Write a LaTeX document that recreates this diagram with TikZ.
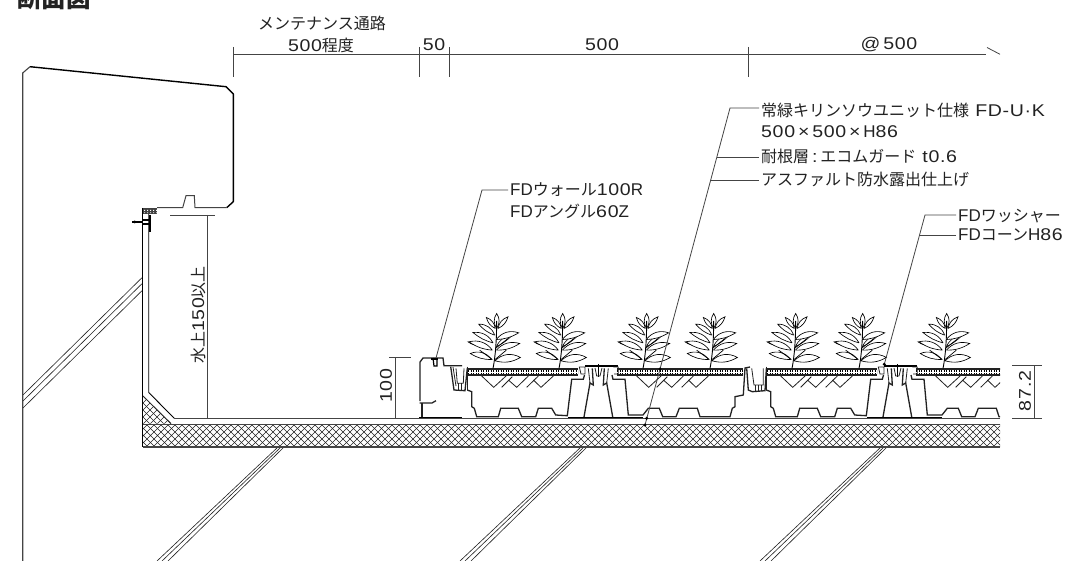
\documentclass[tikz,border=0pt]{standalone}
\usepackage{fontspec}
\setmainfont[FakeStretch=1.15,LetterSpace=4]{Liberation Sans}
\newfontfamily\ltr{Liberation Sans}
\newfontfamily\jpf{Noto Sans CJK JP}
\usetikzlibrary{calc}
\definecolor{ink}{HTML}{222222}
\definecolor{dimc}{HTML}{444444}
\tikzset{
  lbl/.style={inner sep=2pt,text=ink,font=\fontsize{17}{19}\selectfont},
  dimline/.style={draw=dimc,line width=0.8pt},
  leaderline/.style={draw=dimc,line width=0.8pt},
  prof/.style={draw=ink,line width=1.3pt,line join=miter},
  thin/.style={draw=ink,line width=0.8pt},
  leaf/.style={draw=black,line width=0.65pt,fill=white},
  hatchline/.style={draw=ink,line width=0.65pt},
  dotm/.style={circle,fill=black,inner sep=0pt,minimum size=3.4pt}
}
\newcommand{\jt}[1]{{\fontsize{16}{18}\selectfont\jpf #1}}
\newcommand{\lf}[4]{\draw[leaf] (#1) to[bend left=#3] (#2) to[bend left=#4] (#1);}
\newcommand{\plantat}[1]{%
\begin{scope}[shift={(#1,368.5)},x=0.3333pt,y=-0.3333pt]
\begin{scope}[shift={(-340,-205)}]
\lf{350,150}{420,130}{32}{16}
\lf{350,140}{398,105}{30}{8}
\lf{350,118}{417,98}{36}{14}
\lf{346,182}{422,172}{38}{22}
\lf{336,178}{272,160}{-38}{-16}
\lf{300,135}{265,125}{-20}{-20}
\lf{338,150}{268,125}{-34}{-14}
\lf{340,128}{280,97}{-34}{-12}
\lf{345,105}{297,72}{-36}{-14}
\lf{347,85}{320,52}{-30}{-24}
\lf{355,85}{385,50}{30}{24}
\lf{351,85}{351,40}{-34}{-34}
\draw[black,line width=0.9pt] (340,205) .. controls (347,170) and (351,120) .. (351,62);
\draw[black,line width=0.7pt] (344,180) -- (380,150) (347,145) -- (385,115) (338,178) -- (300,150);
\end{scope}
\end{scope}}
\newcommand{\rootsat}[1]{%
\begin{scope}[shift={(#1,375)},x=0.3333pt,y=-0.3333pt]
\draw[thin] (0,3)--(36,37)--(73,3) (60,37)--(92,5) (80,15)--(105,37)--(140,3) (135,37)--(170,3) (155,15)--(178,37)--(215,3);
\end{scope}}
\newcommand{\soilband}[2]{%
\draw[draw=ink,line width=1.1pt] (#1,369) -- (#2,369) (#1,375) -- (#2,375);
\draw[draw=black,line width=4.4pt,dash pattern=on 1.3pt off 1.2pt] (#1,372) -- (#2,372);
\draw[draw=white,line width=0.7pt,dash pattern=on 1pt off 1.5pt] (#1,372) -- (#2,372);}
\newcommand{\traypart}{%
\soilband{468}{578}
\soilband{617}{743}
\rootsat{481.7}
\rootsat{636.7}
\draw[prof] (467.3,390)--(471.7,391.7)--(471.7,406.7)--(474.3,408.3)--(476.7,416.7)--(498.3,416.7)--(500.7,408.3)--(518.3,408.3)--(521.7,416.7)--(535.7,416.7)--(538.3,408.3)--(551.7,408.3)--(555.7,415)--(567.3,415.7)--(571.7,379.3)--(583.3,379.3)--(584.5,375);
\draw[prof] (612,375)--(613,379.3)--(625,379.3)--(628.3,415)--(643,415)--(648.3,408.3)--(659.3,408.3)--(662.7,416.7)--(676,416.7)--(679.3,408.3)--(697.3,408.3)--(700,416.7)--(730,416.7)--(732.3,408.3)--(735,406.7)--(735,396.7)--(743.3,395)--(745,368)--(750,367);
% cone
\draw[draw=black,line width=1.8pt] (585,365.7)--(618.3,365.7);
\draw[draw=black,line width=1.6pt] (598.3,364)--(598.3,377);
\draw[prof] (584,417)--(590,383)--(593.3,385)--(592.3,368.3);
\draw[prof] (612.7,417)--(606.7,383)--(603.3,385)--(604.3,368.3);
\draw[thin] (588.3,368.3)--(590,383) (608.3,368.3)--(606.7,383);
\draw[thin] (595,368)--(596.7,376)--(600,376)--(602,368);
\draw[thin] (579.3,367)--(585,367)--(585,374)--(581,374)--cycle (613.3,367)--(618.3,367)--(618.3,374)--(614,374);
% thick base
\draw[draw=black,line width=1.7pt] (568,417.6)--(643,417.6);
% mid trough
\draw[prof] (746.7,368.3)--(748.3,390)--(752.3,391.7)--(765,390.7)--(766.4,368.3);
\draw[thin] (751.7,368.3)--(754,385)--(763.3,385)--(763.3,368.3);
\draw[thin] (755,385)--(755,390.7) (758,385)--(758,390.7) (761,385)--(761,390.7);
\draw[prof] (766.7,366.7)--(766.7,390);
}
\begin{document}
\begin{tikzpicture}[x=1pt,y=-1pt]
\useasboundingbox (0,0) rectangle (1068,561);
\fill[white] (0,0) rectangle (1068,561);
\node[anchor=west,inner sep=0pt,text=ink,font=\fontsize{24.5}{26}\selectfont] (title) at (17,-2) {{\jpf\bfseries 断面図}};
% parapet
\draw[draw=dimc,line width=1.1pt] (22.7,561)--(22.7,73)--(30,66.7);
\draw[draw=black,line width=1.4pt,line join=bevel] (30,66.7)--(226,86.7)--(233.3,94)--(233.3,201.7)--(226.7,207.7);
\draw[draw=dimc,line width=1pt] (226.7,207.7)--(195,207.7)--(194.3,195.7)--(186,195.7)--(182.7,207.7)--(157,207.7);
% break lines
\foreach \a/\b in {142.7/277,142.7/283,142.7/290}{\pgfmathsetmacro\yy{\b+118}\draw[draw=ink,line width=0.6pt] (\a,\b)--(23,\yy);}
\foreach \dx in {0,303,603}{
 \draw[draw=ink,line width=0.6pt] (278+\dx,447)--(157+\dx,561) (281+\dx,447)--(162+\dx,561) (284+\dx,447)--(168+\dx,561);
}
% wall
\draw[draw=black,line width=1pt] (142.8,208)--(142.8,447);
\draw[draw=black,line width=0.9pt] (148.7,214)--(148.7,392.5)--(174.5,418.5);
% hatched block
\fill[black!75] (142.8,208.5) rectangle (157.3,214);
\foreach \xx in {143,146,...,156}{\fill[white] (\xx+1,210) rectangle +(1,1) (\xx+1,212.4) rectangle +(1,0.8);}
% fixing
\draw[draw=black,line width=2.4pt] (132,222)--(142,222);
\fill[black] (132,222) -- (135,220.5) -- (135,223.5) -- cycle;
\draw[draw=black,line width=1.1pt] (142,220)--(151,220) (142,224)--(151,224);
\draw[draw=black,line width=2pt] (150.3,215)--(150.3,232);
% triangle hatch
\begin{scope}
\clip (143,396)--(171,423.5)--(143,423.5)--cycle;
\foreach \xx in {115,122,...,178}{\draw[hatchline] (\xx,396)--(\xx+28,424) (\xx+28,396)--(\xx,424);}
\end{scope}
\draw[draw=ink,line width=0.8pt] (143,396)--(171,423.5);
% slab
\begin{scope}
\clip (143,424) rectangle (1000,447);
\foreach \xx in {118,125,...,1000}{\draw[hatchline] (\xx,424)--(\xx+23,447) (\xx+23,424)--(\xx,447);}
\end{scope}
\draw[draw=dimc,line width=1.6pt] (143,424.5)--(1000,424.5) (142.8,447.2)--(1000,447.2);
% membrane
\draw[draw=dimc,line width=0.9pt] (174.5,418.7)--(1000,418.7);
\draw[draw=dimc,line width=1.3pt] (183,418.7)--(213,418.7);
% wall bracket
\draw[prof] (422,417)--(422,403);
\draw[prof] (419.5,403)--(432,403)--(436,400.7);
\draw[prof] (420,401)--(420,362)--(423,358)--(443,358)--(444,365.7)--(462,365.7);
\draw[draw=black,line width=1.7pt] (419.3,417.6)--(461.7,417.6);
\draw[draw=black,line width=2pt] (431,358.5)--(438,358.5);
\draw[draw=black,line width=1.2pt] (433,358)--(434,366)--(437,366)--(437,358);
% narrow trough at wall
\draw[prof] (450.7,366.7)--(454,390)--(465,390.7)--(467.3,368);
\draw[thin] (453,367)--(456,386);
\draw[thin] (456,368.3)--(457.3,383.3)--(463.3,383.3)--(464,368.3);
\draw[thin] (458,383.3)--(458,390) (461,383.3)--(461,390);
\draw[prof] (467.3,366.7)--(467.3,390);
% trays
\begin{scope}
\clip (400,340) rectangle (1000,430);
\traypart
\begin{scope}[xshift=299pt]
\traypart
\end{scope}
\end{scope}
% plants
\foreach \px in {493,559,643,710,792,859,943}{\plantat{\px}}
% dimensions
\draw[dimline] (233.3,54.3)--(986,54.3);
\draw[dimline] (987,47.5)--(1000,54.3);
\draw[dimline] (233.3,47)--(233.3,77) (419.3,47)--(419.3,77) (449.3,47)--(449.3,77) (748,47)--(748,77);
\node[lbl] (m1) at (322,23.3) {\jt{メンテナンス通路}};
\node[lbl] (m2) at (321,45) {500\jt{程度}};
\node[lbl] (m3) at (434,45) {50};
\node[lbl] (m4) at (602,45) {500};
\node[lbl] (m5) at (889,45) {@\,500};
% height dims
\draw[dimline] (170,215)--(215,215) (207.7,215)--(207.7,418);
\node[lbl,rotate=90] (h150) at (198,315) {\jt{水上}150\jt{以上}};
\draw[dimline] (389,357.6)--(411,357.6) (389,418)--(411,418) (395.7,357.6)--(395.7,418);
\node[lbl,rotate=90] (h100) at (386,386) {100};
\draw[dimline] (1012,365.7)--(1042,365.7) (1012,418)--(1042,418) (1034,365.7)--(1034,418);
\node[lbl,rotate=90] (h87) at (1025,391) {87.2};
% labels
\node[lbl,anchor=west] (w1) at (508,190) {{\ltr FD}\jt{ウォール}100{\ltr R}};
\node[lbl,anchor=west] (w2) at (508,211) {{\ltr FD}\jt{アングル}60{\ltr Z}};
\node[lbl,anchor=west] (u1) at (759,110) {\jt{常緑キリンソウユニット仕様} FD-U·K};
\node[lbl,anchor=west] (u2) at (759,132) {500\,×\,500\,×\,{\ltr H}86};
\node[lbl,anchor=west] (u3) at (759,156) {\jt{耐根層}\,:\,\jt{エコムガード} t0.6};
\node[lbl,anchor=west] (u4) at (759,179) {\jt{アスファルト防水露出仕上げ}};
\node[lbl,anchor=west] (c1) at (956,216) {{\ltr FD}\jt{ワッシャー}};
\node[lbl,anchor=west] (c2) at (956,235) {{\ltr FD}\jt{コーン}{\ltr H}86};
% leaders
\coordinate (wk) at (482,190); \coordinate (we) at (436,358);
\draw[leaderline] (w1.west)--(wk)--(we);
\coordinate (uk) at (730,108); \coordinate (ue) at (645,425);
\coordinate (uk3) at (716.7,157); \coordinate (uk4) at (710.5,180);
\coordinate (ud1) at (660,369); \coordinate (ud2) at (646.7,418.3);
\draw[leaderline] (u1.west|-uk)--(uk)--(ue);
\draw[leaderline] (u3.west|-uk3)--(uk3);
\draw[leaderline] (u4.west|-uk4)--(uk4);
\node[dotm] (d1) at (ud1) {};
\node[dotm] (d2) at (ud2) {};
\node[dotm] (d3) at (ue) {};
\coordinate (ck) at (925,215); \coordinate (ce) at (884.3,364.3); \coordinate (ck2) at (919.5,235);
\draw[leaderline] (c1.west|-ck)--(ck)--(ce);
\draw[leaderline] (c2.west|-ck2)--(ck2);
\node[dotm] (d4) at (ce) {};
\end{tikzpicture}
\end{document}
